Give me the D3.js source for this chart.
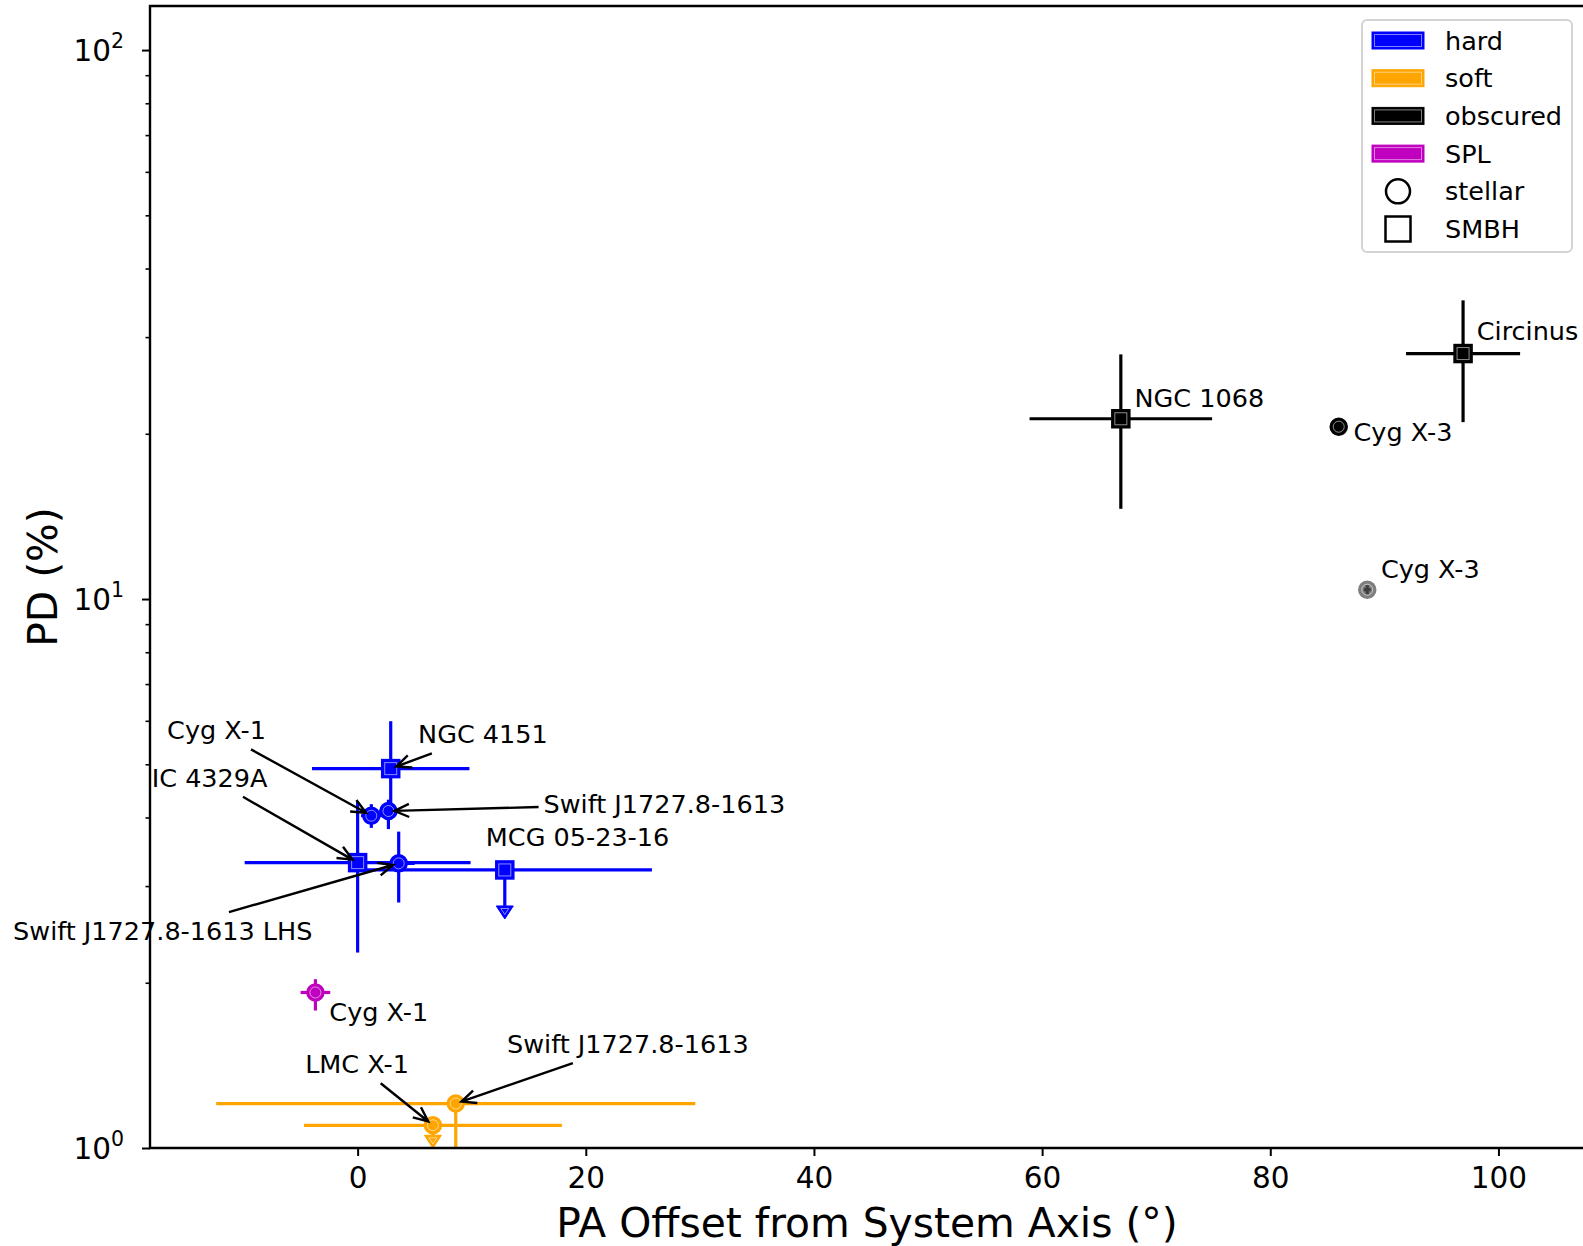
<!DOCTYPE html>
<html>
<head>
<meta charset="utf-8">
<script src="https://cdn.jsdelivr.net/npm/d3@7"></script>
<style>
  body { margin: 0; background: #fff; }
  text { font-family: "DejaVu Sans", sans-serif; }
</style>
</head>
<body>
<svg width="1583" height="1246"></svg>
<script>
// ---- data ----
const categories = ['hard', 'soft', 'obscured', 'SPL']
const categoryColors = ['#0000ff', '#ffa500', '#000000', '#bf00bf']
const sourceKinds = ['stellar', 'SMBH']

const names = ['NGC 1068', 'Circinus', 'Cyg X-3', 'Cyg X-3', 'NGC 4151', 'Cyg X-1',
  'Swift J1727.8-1613', 'IC 4329A', 'Swift J1727.8-1613 LHS', 'MCG 05-23-16',
  'Cyg X-1', 'Swift J1727.8-1613', 'LMC X-1']
const states = ['obscured', 'obscured', 'obscured', 'obscured', 'hard', 'hard',
  'hard', 'hard', 'hard', 'hard', 'SPL', 'soft', 'soft']
const kinds = ['SMBH', 'SMBH', 'stellar', 'stellar', 'SMBH', 'stellar',
  'stellar', 'SMBH', 'stellar', 'SMBH', 'stellar', 'stellar', 'stellar']
const secondary = [false, false, false, true, false, false, false, false, false, false, false, false, false]
const paOffset = [66.9, 96.9, 86.0, 88.5, 2.9, 1.2, 2.7, 0.0, 3.6, 12.9, -3.7, 8.6, 6.6]
const paErr = [8.0, 5.0, 0.3, 0.3, 6.9, 0.9, 0.8, 9.9, 1.4, 12.9, 1.3, 21.0, 11.3]
const pdValue = [21.3, 28.0, 20.6, 10.4, 4.91, 4.03, 4.11, 3.31, 3.30, 3.21, 1.92, 1.205, 1.10]
const pdErrLow = [6.7, 7.0, 0.3, 0.2, 0.70, 0.20, 0.30, 1.04, 0.50, 0.45, 0.14, 0.30, 0.045]
const pdErrHigh = [6.6, 7.0, 0.3, 0.2, 1.08, 0.20, 0.20, 0.96, 0.47, 0, 0.11, 0.01, 0]
const upperLimit = [false, false, false, false, false, false, false, false, false, true, false, false, true]

const xTicks = [0, 20, 40, 60, 80, 100]
const yTicks = [1, 10, 100]
const yMinor = [2, 3, 4, 5, 6, 7, 8, 9, 20, 30, 40, 50, 60, 70, 80, 90]

// label placement (data coords, left/baseline of text) -> which point, arrow or not
const annotations = [
  {i: 0, tx: 68.1, ty: 22.4, arrow: false},
  {i: 1, tx: 98.1, ty: 29.6, arrow: false},
  {i: 2, tx: 87.3, ty: 19.4, arrow: false},
  {i: 3, tx: 89.7, ty: 10.93, arrow: false},
  {i: 4, tx: 5.3, ty: 5.46, arrow: true},
  {i: 6, tx: 16.3, ty: 4.08, arrow: true},
  {i: 9, tx: 11.24, ty: 3.55, arrow: false},
  {i: 5, tx: -16.7, ty: 5.55, arrow: true},
  {i: 7, tx: -18.05, ty: 4.55, arrow: true},
  {i: 8, tx: -30.2, ty: 2.392, arrow: true},
  {i: 10, tx: -2.48, ty: 1.705, arrow: false},
  {i: 11, tx: 13.1, ty: 1.489, arrow: true},
  {i: 12, tx: -4.6, ty: 1.368, arrow: true}
]

// ---- layout ----
const svg = d3.select('svg')
const pLeft = 150, pRight = 1584, pTop = 6, pBottom = 1148

const xScale = d3.scaleLinear().domain([-18.2, 107.5]).range([pLeft, pRight])
const yScale = d3.scaleLog().domain([1, 120.3]).range([pBottom, pTop])
const colorOf = i => categoryColors[categories.indexOf(states[i])]

svg.append('rect').attr('width', 1583).attr('height', 1246).attr('fill', '#fff')

svg.append('clipPath').attr('id', 'plotclip')
  .append('rect').attr('x', pLeft).attr('y', pTop)
  .attr('width', pRight - pLeft).attr('height', pBottom - pTop)

const plot = svg.append('g').attr('clip-path', 'url(#plotclip)')

// error bars
names.forEach((n, i) => {
  const g = plot.append('g').attr('opacity', secondary[i] ? 0.5 : 1)
  const col = colorOf(i)
  const cx = xScale(paOffset[i]), cy = yScale(pdValue[i])
  g.append('line')
    .attr('x1', xScale(paOffset[i] - paErr[i])).attr('x2', xScale(paOffset[i] + paErr[i]))
    .attr('y1', cy).attr('y2', cy)
    .attr('stroke', col).attr('stroke-width', 3.2)
  const lo = pdValue[i] - pdErrLow[i]
  g.append('line')
    .attr('x1', cx).attr('x2', cx)
    .attr('y1', lo > 0 ? yScale(lo) : pBottom + 50)
    .attr('y2', yScale(pdValue[i] + pdErrHigh[i]))
    .attr('stroke', col).attr('stroke-width', 3.2)
})

function drawMarker(g, kind, cx, cy, col, fill) {
  if (kind === 'stellar') {
    g.append('circle').attr('cx', cx).attr('cy', cy).attr('r', fill ? 8.5 : 12)
      .attr('fill', fill ? col : 'none').attr('stroke', col).attr('stroke-width', fill ? 1.5 : 2.5)
    if (fill) g.append('circle').attr('cx', cx).attr('cy', cy).attr('r', 5.5)
      .attr('fill', 'none').attr('stroke', '#fff').attr('stroke-width', 1).attr('opacity', 0.55)
  } else {
    const s = fill ? 18 : 25
    g.append('rect').attr('x', cx - s / 2).attr('y', cy - s / 2).attr('width', s).attr('height', s)
      .attr('fill', fill ? col : 'none').attr('stroke', col).attr('stroke-width', fill ? 1.5 : 2.5)
    if (fill) g.append('rect').attr('x', cx - 6).attr('y', cy - 6).attr('width', 12).attr('height', 12)
      .attr('fill', 'none').attr('stroke', '#fff').attr('stroke-width', 1).attr('opacity', 0.55)
  }
}

// markers + upper-limit carets
names.forEach((n, i) => {
  const g = plot.append('g').attr('opacity', secondary[i] ? 0.5 : 1)
  const col = colorOf(i)
  const cx = xScale(paOffset[i]), cy = yScale(pdValue[i])
  if (upperLimit[i]) {
    const yb = yScale(pdValue[i] - pdErrLow[i])
    g.append('path').attr('d', `M${cx - 8.5},${yb}L${cx + 8.5},${yb}L${cx},${yb + 13}Z`)
      .attr('fill', col).attr('stroke', col).attr('stroke-width', 1)
    g.append('path').attr('d', `M${cx - 4},${yb + 2.5}L${cx + 4},${yb + 2.5}L${cx},${yb + 8.5}Z`)
      .attr('fill', 'none').attr('stroke', '#fff').attr('stroke-width', 1).attr('opacity', 0.55)
  }
  drawMarker(g, kinds[i], cx, cy, col, true)
})

// annotations
const annG = svg.append('g')
annotations.forEach(a => {
  const t = annG.append('text')
    .attr('x', xScale(a.tx)).attr('y', yScale(a.ty))
    .attr('font-size', 25.5).attr('fill', '#000')
    .text(names[a.i])
  if (!a.arrow) return
  const bb = t.node().getBBox()
  const c = [bb.x + bb.width / 2, bb.y + bb.height / 2]
  const p = [xScale(paOffset[a.i]), yScale(pdValue[a.i])]
  const dx = p[0] - c[0], dy = p[1] - c[1]
  const hw = bb.width / 2 + 5, hh = bb.height / 2 + 4
  const s = Math.min(Math.abs(hw / dx), Math.abs(hh / dy))
  const x0 = c[0] + dx * s, y0 = c[1] + dy * s
  const len = Math.hypot(p[0] - x0, p[1] - y0)
  const shrink = 6
  const x1 = p[0] - (p[0] - x0) / len * shrink, y1 = p[1] - (p[1] - y0) / len * shrink
  const ang = Math.atan2(y1 - y0, x1 - x0), L = 16, w = 0.42
  const h1 = [x1 - L * Math.cos(ang - w), y1 - L * Math.sin(ang - w)]
  const h2 = [x1 - L * Math.cos(ang + w), y1 - L * Math.sin(ang + w)]
  annG.append('path')
    .attr('d', `M${x0},${y0}L${x1},${y1}M${h1[0]},${h1[1]}L${x1},${y1}L${h2[0]},${h2[1]}`)
    .attr('fill', 'none').attr('stroke', '#000').attr('stroke-width', 2.4)
})

// axes
const xAxis = d3.axisBottom(xScale).tickValues(xTicks).tickSize(8).tickPadding(11)
  .tickFormat(d3.format('d'))
const gx = svg.append('g').attr('transform', `translate(0,${pBottom})`).call(xAxis)
gx.select('.domain').remove()
gx.selectAll('line').attr('stroke-width', 2)
gx.selectAll('text').attr('font-size', 29.5).attr('font-family', 'DejaVu Sans')

const gyMinor = svg.append('g').attr('transform', `translate(${pLeft},0)`)
  .call(d3.axisLeft(yScale).tickValues(yMinor).tickSize(4.5).tickFormat(''))
gyMinor.select('.domain').remove()
gyMinor.selectAll('line').attr('stroke-width', 1.6)

const gy = svg.append('g').attr('transform', `translate(${pLeft},0)`)
  .call(d3.axisLeft(yScale).tickValues(yTicks).tickSize(8).tickFormat(''))
gy.select('.domain').remove()
gy.selectAll('line').attr('stroke-width', 2)
yTicks.forEach(v => {
  const t = svg.append('text').attr('x', 124).attr('y', yScale(v) + 11)
    .attr('text-anchor', 'end').attr('font-size', 29.5)
  t.append('tspan').text('10')
  t.append('tspan').attr('font-size', 20.5).attr('dy', -13.5).text(Math.round(Math.log10(v)))
})

// spines (left, top, bottom; right edge falls outside the picture)
svg.append('path')
  .attr('d', `M${pRight + 20},${pTop}H${pLeft}V${pBottom}H${pRight + 20}`)
  .attr('fill', 'none').attr('stroke', '#000').attr('stroke-width', 2.4)

svg.append('text').attr('x', (pLeft + pRight) / 2).attr('y', 1237)
  .attr('text-anchor', 'middle').attr('font-size', 40.8)
  .text('PA Offset from System Axis (°)')
svg.append('text').attr('transform', `translate(57,${(pTop + pBottom) / 2}) rotate(-90)`)
  .attr('text-anchor', 'middle').attr('font-size', 40.8)
  .text('PD (%)')

// legend
const lg = svg.append('g')
lg.append('rect').attr('x', 1362).attr('y', 20).attr('width', 210).attr('height', 232)
  .attr('rx', 5).attr('fill', '#fff').attr('fill-opacity', 0.8)
  .attr('stroke', '#d4d4d4').attr('stroke-width', 2)
const rowY = k => 40.5 + k * 37.7
categories.forEach((c, k) => {
  const yy = rowY(k)
  lg.append('rect').attr('x', 1372).attr('y', yy - 8.5).attr('width', 52).attr('height', 17)
    .attr('fill', categoryColors[k]).attr('stroke', categoryColors[k]).attr('stroke-width', 1)
  lg.append('rect').attr('x', 1374.5).attr('y', yy - 6).attr('width', 47).attr('height', 12)
    .attr('fill', 'none').attr('stroke', '#fff').attr('stroke-width', 1).attr('opacity', 0.5)
  lg.append('text').attr('x', 1445).attr('y', yy + 9).attr('font-size', 25.5).text(c)
})
sourceKinds.forEach((kd, k) => {
  const yy = rowY(categories.length + k)
  drawMarker(lg, kd, 1398, yy, '#000', false)
  lg.append('text').attr('x', 1445).attr('y', yy + 9).attr('font-size', 25.5).text(kd)
})
</script>
</body>
</html>
